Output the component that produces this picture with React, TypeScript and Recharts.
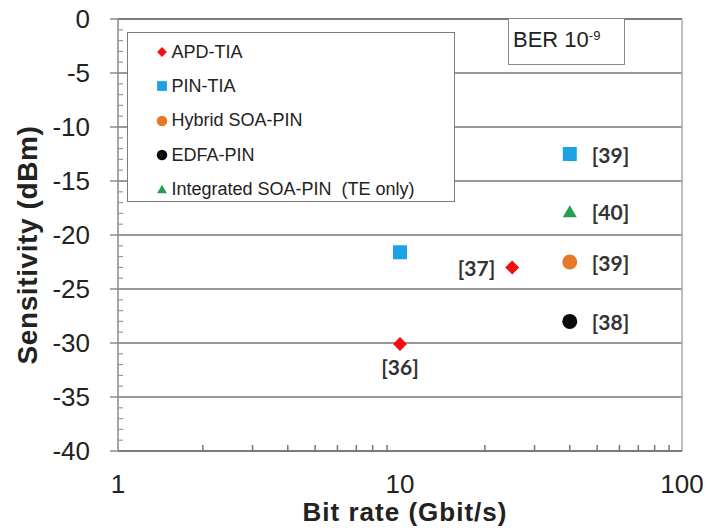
import {
  CartesianGrid, Label, LabelList, Legend, ReferenceLine, Scatter, ScatterChart, XAxis, YAxis,
} from 'recharts'

const FONT = '"Liberation Sans", Arial, sans-serif'
const REF_FONT = 'Lato, "Open Sans", sans-serif'

// legend order
const seriesNames = ['APD-TIA', 'PIN-TIA', 'Hybrid SOA-PIN', 'EDFA-PIN', 'Integrated SOA-PIN  (TE only)']
const seriesColors = ['#f20f0f', '#1ba3e6', '#e8782a', '#0a0a0a', '#23a04c']

const apdRate = [10, 25]
const apdSens = [-30.1, -23.0]
const apdRefs = ['[36]', '[37]']

const pinRate = [10, 40]
const pinSens = [-21.6, -12.5]
const pinRefs = ['', '[39]']

const hybridRate = [40]
const hybridSens = [-22.5]
const hybridRefs = ['[39]']

const edfaRate = [40]
const edfaSens = [-28.0]
const edfaRefs = ['[38]']

const integratedRate = [40]
const integratedSens = [-17.8]
const integratedRefs = ['[40]']

const xTicks = [1, 10, 100]
const xMinorTicks = [2, 3, 4, 5, 6, 7, 8, 9, 20, 30, 40, 50, 60, 70, 80, 90]
const yTicks = [0, -5, -10, -15, -20, -25, -30, -35, -40]
const yMinorTicks = [
  -1, -2, -3, -4, -6, -7, -8, -9, -11, -12, -13, -14, -16, -17, -18, -19,
  -21, -22, -23, -24, -26, -27, -28, -29, -31, -32, -33, -34, -36, -37, -38, -39,
]

const toPoints = (rate: number[], sens: number[], refs: string[]) =>
  rate.map((r, i) => ({ rate: r, sens: sens[i], ref: refs[i] }))

type Kind = 'diamond' | 'square' | 'circle' | 'triangle'

function marker(kind: Kind, cx: number, cy: number, fill: string, small = false) {
  const k = small ? 0.7 : 1
  if (kind === 'diamond') {
    const r = 7 * k
    return <path d={`M${cx},${cy - r}L${cx + r},${cy}L${cx},${cy + r}L${cx - r},${cy}Z`} fill={fill} />
  }
  if (kind === 'square') {
    const s = 14 * k
    return <rect x={cx - s / 2} y={cy - s / 2} width={s} height={s} fill={fill} />
  }
  if (kind === 'triangle') {
    const w = 14 * k, h = 12 * k
    return <path d={`M${cx},${cy - h / 2}L${cx + w / 2},${cy + h / 2}L${cx - w / 2},${cy + h / 2}Z`} fill={fill} />
  }
  return <circle cx={cx} cy={cy} r={7.5 * k} fill={fill} />
}

const shapeOf = (kind: Kind) => (p: any) => marker(kind, p.cx, p.cy, p.fill)

type Side = 'right' | 'left' | 'bottom'

function refText(p: any, side: Side) {
  if (!p.value) return null
  const cx = p.x + p.width / 2
  const cy = p.y + p.height / 2
  const common = { fontFamily: REF_FONT, fontSize: 21, fontWeight: 700, fill: '#333', dominantBaseline: 'central' as const }
  if (side === 'left') return <text x={cx - 17} y={cy} textAnchor="end" {...common}>{p.value}</text>
  if (side === 'bottom') return <text x={cx} y={cy + 22} textAnchor="middle" {...common}>{p.value}</text>
  return <text x={cx + 22} y={cy} textAnchor="start" {...common}>{p.value}</text>
}

function LegendBox({ payload }: any) {
  const items = [...(payload ?? [])].sort(
    (a: any, b: any) => seriesNames.indexOf(a.value) - seriesNames.indexOf(b.value),
  )
  return (
    <div style={{
      width: 328, height: 170, boxSizing: 'border-box', border: '1.5px solid #7d7d7d',
      background: '#fff', paddingTop: 2,
    }}>
      {items.map((it: any) => (
        <div key={it.value} style={{
          height: 34.3, display: 'flex', alignItems: 'center', fontFamily: FONT, fontSize: 18,
          color: '#222', whiteSpace: 'pre',
        }}>
          <svg width={12} height={12} style={{ marginLeft: 27.5, marginRight: 4 }}>
            {marker(it.type as Kind, 6, 6, it.color, true)}
          </svg>
          {it.value}
        </div>
      ))}
    </div>
  )
}

function YTitle({ viewBox }: any) {
  const x = viewBox.x + 37
  const y = viewBox.y + viewBox.height / 2 + 10
  return (
    <text x={x} y={y} transform={`rotate(-90 ${x} ${y})`} textAnchor="middle"
      fontFamily={FONT} fontSize={28} fontWeight={700} fill="#222" letterSpacing={0.6}>
      Sensitivity (dBm)
    </text>
  )
}

const noTick = () => <g />

export default function App() {
  const apdSides: Side[] = ['bottom', 'left']
  return (
    <div style={{ position: 'relative', width: 707, height: 528, background: '#fff' }}>
      <style>{'body{margin:0;background:#fff}'}</style>
      <ScatterChart width={707} height={528} margin={{ top: 19, right: 25, bottom: 0, left: 0 }}
        style={{ fontFamily: FONT }}>
        <CartesianGrid vertical={false} stroke="#9a9a9a" strokeWidth={2} />
        <XAxis xAxisId={0} type="number" dataKey="rate" scale="log" domain={[1, 100]} ticks={xTicks}
          allowDataOverflow height={77} tickLine={false} tickSize={0} tickMargin={24}
          axisLine={{ stroke: '#7a7a7a', strokeWidth: 2 }} tick={{ fill: '#222', fontSize: 26 }}>
          <Label value="Bit rate (Gbit/s)" position="insideBottom" offset={7} dx={5}
            style={{ fontSize: 26, fontWeight: 700, fill: '#222', letterSpacing: 1 }} />
        </XAxis>
        <XAxis xAxisId="minor" type="number" dataKey="rate" scale="log" domain={[1, 100]} ticks={xMinorTicks}
          allowDataOverflow mirror height={1} interval={0} tick={noTick} axisLine={false} tickSize={6}
          tickLine={{ stroke: '#777', strokeWidth: 1.5 }} />
        <YAxis yAxisId={0} type="number" dataKey="sens" domain={[-40, 0]} ticks={yTicks} allowDataOverflow
          width={118} tickSize={8} tickMargin={20} axisLine={{ stroke: '#8a8a8a', strokeWidth: 1.5 }}
          tickLine={{ stroke: '#8a8a8a', strokeWidth: 1.5 }} tick={{ fill: '#222', fontSize: 26 }}
          label={<YTitle />} />
        <YAxis yAxisId="minor" type="number" domain={[-40, 0]} ticks={yMinorTicks} allowDataOverflow
          mirror width={1} interval={0} tick={noTick} axisLine={false} tickSize={5}
          tickLine={{ stroke: '#999', strokeWidth: 1.2 }} />
        <ReferenceLine y={0} stroke="#7a7a7a" strokeWidth={2} />
        <ReferenceLine x={100} stroke="#aaa" strokeWidth={1.5} />
        <Legend layout="horizontal" verticalAlign="middle" align="center" content={<LegendBox />}
          wrapperStyle={{ left: 127, top: 32, width: 328, height: 170 }} />
        <Scatter name={seriesNames[0]} data={toPoints(apdRate, apdSens, apdRefs)} fill={seriesColors[0]}
          legendType="diamond" shape={shapeOf('diamond')} isAnimationActive={false}>
          <LabelList dataKey="ref" content={(p: any) => refText(p, apdSides[p.index])} />
        </Scatter>
        <Scatter name={seriesNames[1]} data={toPoints(pinRate, pinSens, pinRefs)} fill={seriesColors[1]}
          legendType="square" shape={shapeOf('square')} isAnimationActive={false}>
          <LabelList dataKey="ref" content={(p: any) => refText(p, 'right')} />
        </Scatter>
        <Scatter name={seriesNames[2]} data={toPoints(hybridRate, hybridSens, hybridRefs)} fill={seriesColors[2]}
          legendType="circle" shape={shapeOf('circle')} isAnimationActive={false}>
          <LabelList dataKey="ref" content={(p: any) => refText(p, 'right')} />
        </Scatter>
        <Scatter name={seriesNames[3]} data={toPoints(edfaRate, edfaSens, edfaRefs)} fill={seriesColors[3]}
          legendType="circle" shape={shapeOf('circle')} isAnimationActive={false}>
          <LabelList dataKey="ref" content={(p: any) => refText(p, 'right')} />
        </Scatter>
        <Scatter name={seriesNames[4]} data={toPoints(integratedRate, integratedSens, integratedRefs)}
          fill={seriesColors[4]} legendType="triangle" shape={shapeOf('triangle')} isAnimationActive={false}>
          <LabelList dataKey="ref" content={(p: any) => refText(p, 'right')} />
        </Scatter>
      </ScatterChart>
      <div style={{
        position: 'absolute', left: 508, top: 18, width: 117, height: 47, boxSizing: 'border-box',
        border: '1.5px solid #8a8a8a', background: '#fff', paddingTop: 10, paddingLeft: 4,
        fontFamily: FONT, fontSize: 22, lineHeight: '22px', color: '#222', whiteSpace: 'nowrap',
      }}>
        BER 10<sup style={{ fontSize: 13, verticalAlign: 'top', position: 'relative', top: -4 }}>-9</sup>
      </div>
    </div>
  )
}
